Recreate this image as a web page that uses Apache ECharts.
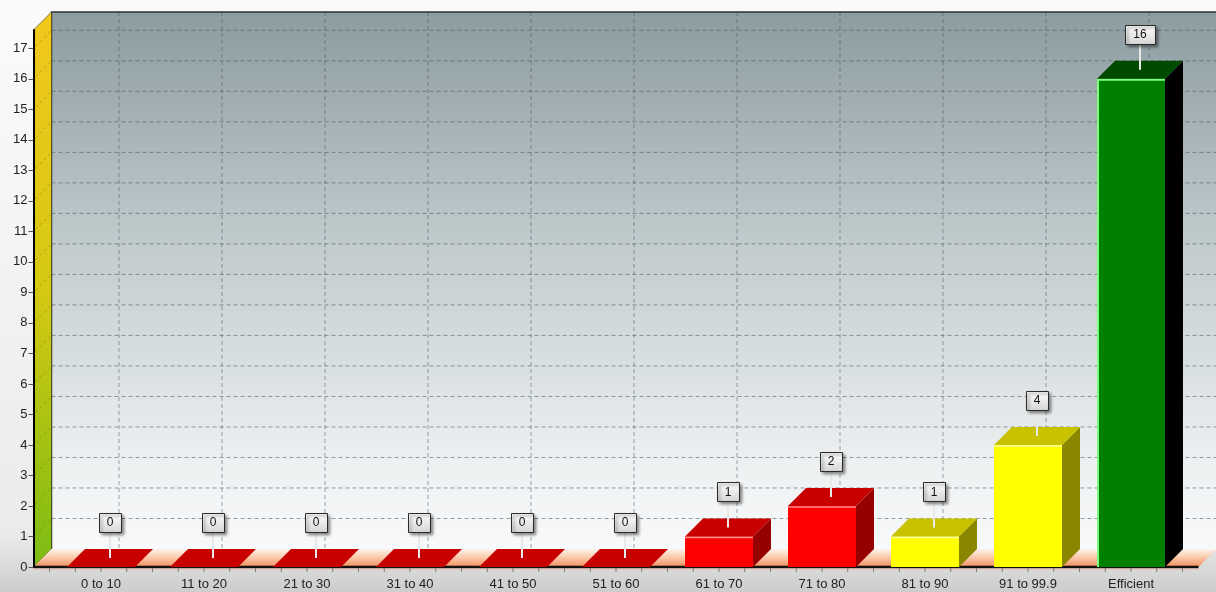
<!DOCTYPE html>
<html><head><meta charset="utf-8">
<script src="https://cdn.jsdelivr.net/npm/echarts@6/dist/echarts.min.js"></script>
<style>html,body{margin:0;padding:0;background:#fff;}#c{width:1216px;height:592px;}</style>
</head><body><div id="c"></div>
<script>
// ---- data ----
const categories = ['0 to 10','11 to 20','21 to 30','31 to 40','41 to 50','51 to 60','61 to 70','71 to 80','81 to 90','91 to 99.9','Efficient'];
const counts = [0,0,0,0,0,0,1,2,1,4,16];
const barColorKeys = ['red','red','red','red','red','red','red','red','yellow','yellow','green'];
const yTicks = [0,1,2,3,4,5,6,7,8,9,10,11,12,13,14,15,16,17];
const yMax = 17.6;

// ---- styles ----
const palette = {
  red:    {front:'#ff0000', top:'#c80000', side:'#960000', hi:'#ff8a8a'},
  yellow: {front:'#ffff00', top:'#c8c200', side:'#8a8600', hi:'#ffff9a'},
  green:  {front:'#008000', top:'#004a00', side:'#000000', hi:'#7cff7c'}
};
const D = 18;        // 3D depth in px
const PAD = 16;      // floor extension beyond category band

const chart = echarts.init(document.getElementById('c'));

function bgRender(params, api) {
  const cs = params.coordSys;
  const band = api.size([1, 0])[0];
  const y0 = api.coord([0, 0])[1];
  const top = cs.y;
  const bandStart = api.coord([0, 0])[0] - band / 2;
  const bandEnd = api.coord([categories.length - 1, 0])[0] + band / 2;
  const xL = bandStart - PAD, xR = bandEnd + PAD;
  const ch = [];
  // back wall
  ch.push({type:'rect', shape:{x:xL + D, y:top - D, width:xR - xL, height:y0 - top},
    style:{fill:new echarts.graphic.LinearGradient(0,0,0,1,[
      {offset:0,color:'#8c9ca0'},{offset:0.45,color:'#c3cdd0'},{offset:0.85,color:'#eef1f2'},{offset:1,color:'#f8f9fa'}])}});
  // horizontal grid lines
  yTicks.forEach(v => {
    if (v === 0) return;
    const y = api.coord([0, v])[1];
    ch.push({type:'line', shape:{x1:xL + D, y1:y - D, x2:xR + D, y2:y - D},
      style:{stroke:'rgba(70,80,85,0.55)', lineWidth:1, lineDash:[4,3]}});
  });
  // vertical grid lines
  categories.forEach((c, i) => {
    const x = api.coord([i, 0])[0] + D;
    ch.push({type:'line', shape:{x1:x, y1:top - D, x2:x, y2:y0 - D},
      style:{stroke:'rgba(70,80,85,0.5)', lineWidth:1, lineDash:[4,3]}});
  });
  // back wall border
  ch.push({type:'polyline', shape:{points:[[xL + D, y0 - D],[xL + D, top - D],[xR + D, top - D]]},
    style:{stroke:'#2e3335', lineWidth:1.5, fill:null}});
  // left wall
  ch.push({type:'polygon', shape:{points:[[xL, y0],[xL, top],[xL + D, top - D],[xL + D, y0 - D]]},
    style:{fill:new echarts.graphic.LinearGradient(0,0,0,1,[
      {offset:0,color:'#f2c81c'},{offset:0.5,color:'#d6c912'},{offset:1,color:'#7cbc14'}]),
      stroke:'#3a3a1a', lineWidth:0.6}});
  yTicks.forEach(v => {
    if (v === 0) return;
    const y = api.coord([0, v])[1];
    ch.push({type:'line', shape:{x1:xL + 2, y1:y - 2, x2:xL + D, y2:y - D},
      style:{stroke:'rgba(120,110,20,0.45)', lineWidth:1, lineDash:[3,3]}});
  });
  // floor
  ch.push({type:'polygon', shape:{points:[[xL, y0],[xR, y0],[xR + D, y0 - D],[xL + D, y0 - D]]},
    style:{fill:new echarts.graphic.LinearGradient(0,0,0,1,[
      {offset:0,color:'#fbf3ee'},{offset:0.4,color:'#fbd0b4'},{offset:1,color:'#f2905e'}])}});
  // front axis line
  ch.push({type:'line', shape:{x1:xL, y1:y0, x2:xR, y2:y0}, style:{stroke:'#111', lineWidth:2.5}});
  ch.push({type:'line', shape:{x1:xL, y1:y0 + 2, x2:xR, y2:y0 + 2}, style:{stroke:'rgba(240,170,160,0.8)', lineWidth:1}});
  // quarter ticks
  for (let k = 0; k <= categories.length * 4; k++) {
    const x = bandStart + k * band / 4;
    ch.push({type:'line', shape:{x1:x, y1:y0 + 1, x2:x, y2:y0 + 5}, style:{stroke:'#7a7a7a', lineWidth:1}});
  }
  return {type:'group', children:ch};
}

function barRender(params, api) {
  const i = api.value(0), v = api.value(1);
  const col = palette[barColorKeys[i]];
  const c = api.coord([i, v]);
  const b = api.coord([i, 0]);
  const w = api.size([1, 0])[0] * 0.66;
  const x0 = c[0] - w / 2, x1 = c[0] + w / 2, yt = c[1], yb = b[1];
  const ch = [];
  if (v > 0) {
    ch.push({type:'rect', shape:{x:x0, y:yt, width:w, height:yb - yt}, style:{fill:col.front}});
    ch.push({type:'polygon', shape:{points:[[x1, yt],[x1 + D, yt - D],[x1 + D, yb - D],[x1, yb]]}, style:{fill:col.side}});
    if (barColorKeys[i] === 'green') {
      ch.push({type:'polyline', shape:{points:[[x0 + 1, yb],[x0 + 1, yt + 1],[x1, yt + 1]]}, style:{stroke:col.hi, lineWidth:2, fill:null}});
    } else {
      ch.push({type:'line', shape:{x1:x0, y1:yt + 1, x2:x1, y2:yt + 1}, style:{stroke:col.hi, lineWidth:1.5}});
    }
  }
  ch.push({type:'polygon', shape:{points:[[x0, yt],[x1, yt],[x1 + D, yt - D],[x0 + D, yt - D]]}, style:{fill:col.top}});
  return {type:'group', children:ch};
}

function labelRender(params, api) {
  const i = api.value(0), v = api.value(1);
  const c = api.coord([i, v]);
  const cx = c[0] + D / 2, cy = c[1] - D / 2;
  const txt = String(v);
  const bw = 14 + 8 * txt.length, bh = 19;
  const boxBottom = cy - 26;
  return {type:'group', children:[
    {type:'line', shape:{x1:cx, y1:cy, x2:cx, y2:boxBottom}, style:{stroke:'#e9e9e9', lineWidth:2}},
    {type:'rect', shape:{x:Math.round(cx - bw / 2) + 0.5, y:Math.round(boxBottom - bh) + 0.5, width:bw, height:bh},
      style:{fill:new echarts.graphic.LinearGradient(0,0,0,1,[{offset:0,color:'#ffffff'},{offset:1,color:'#d4d4d4'}]),
        stroke:'#2a2a2a', lineWidth:1, shadowBlur:3, shadowOffsetX:2, shadowOffsetY:2, shadowColor:'rgba(0,0,0,0.45)'}},
    {type:'text', style:{text:txt, x:cx, y:boxBottom - bh / 2 + 0.5, align:'center', verticalAlign:'middle',
      font:'12px "Liberation Sans", Arial, sans-serif', fill:'#111'}}
  ]};
}

chart.setOption({
  animation:false,
  backgroundColor:new echarts.graphic.LinearGradient(0,0,0,1,[
    {offset:0,color:'#fbfbfb'},{offset:0.9,color:'#ebebeb'},{offset:1,color:'#cdcdcd'}]),
  grid:{left:49.5, right:33.5, top:30, bottom:25},
  xAxis:{type:'category', data:categories,
    axisLine:{show:false}, axisTick:{show:false}, splitLine:{show:false},
    axisLabel:{color:'#222', fontSize:13, fontFamily:'"Liberation Sans", Arial, sans-serif', margin:11}},
  yAxis:{type:'value', min:0, max:yMax, interval:1, offset:16, z:10,
    axisLine:{show:true, lineStyle:{color:'#000', width:2}},
    axisTick:{show:true, length:5, lineStyle:{color:'#555'}, customValues:yTicks},
    axisLabel:{color:'#222', fontSize:13, fontFamily:'"Liberation Sans", Arial, sans-serif', margin:6,
      customValues:yTicks, formatter:v => Number.isInteger(v) ? String(v) : ''},
    splitLine:{show:false}},
  series:[
    {type:'custom', z:1, silent:true, clip:false, renderItem:bgRender, data:[[0, 0]]},
    {type:'custom', z:3, clip:false, renderItem:barRender, data:counts.map((v, i) => [i, v])},
    {type:'custom', z:4, clip:false, renderItem:labelRender, data:counts.map((v, i) => [i, v])}
  ]
});
</script></body></html>
